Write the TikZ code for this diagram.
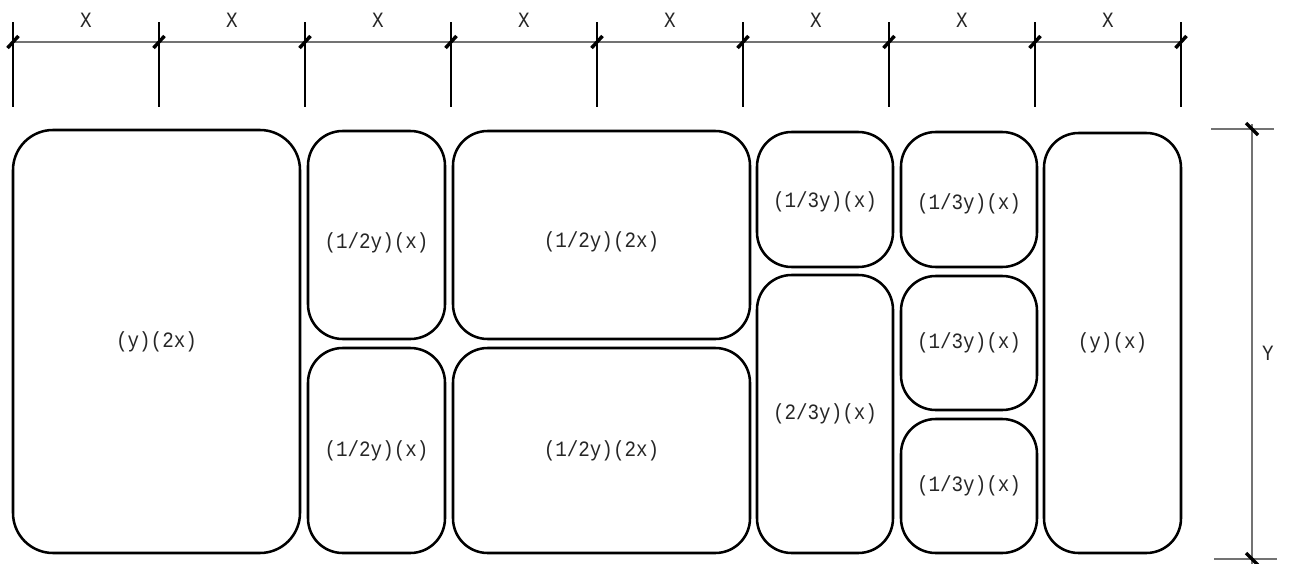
\documentclass[tikz,border=0pt]{standalone}
\usepackage{fontspec}
\newfontfamily\cadfont[FakeStretch=0.88]{Liberation Mono}
\usetikzlibrary{fit}
\begin{document}
\begin{tikzpicture}[x=0.75pt,y=-0.75pt,
  box/.style={draw=black,line width=1.9pt,rounded corners=26pt,inner sep=0pt},
  bigbox/.style={box,rounded corners=30pt},
  lbl/.style={font=\cadfont\fontsize{16.4}{18}\selectfont,text=black!85,inner sep=0pt},
  dimline/.style={draw=black!55,line width=1.1pt},
  extline/.style={draw=black,line width=0.8pt},
  tick/.style={draw=black,line width=2.6pt}]
\useasboundingbox (0,0) rectangle (1290,564);
% top dimension
\draw[dimline] (13,42) -- (1181,42);
\foreach \i in {0,...,8} {
  \pgfmathsetmacro{\xx}{13+146*\i}
  \coordinate (e\i) at (\xx,22);
  \coordinate (f\i) at (\xx,107);
  \draw[extline] (e\i) -- (f\i);
  \draw[tick] (\xx-5.5,48) -- (\xx+5.5,36);
}
\foreach \i in {0,...,7} {
  \pgfmathsetmacro{\xx}{86+146*\i}
  \node[lbl] (X\i) at (\xx,20) {X};
}
% right dimension
\draw[dimline] (1252,124) -- (1252,564);
\draw[dimline] (1211,129) -- (1274,129);
\draw[dimline] (1214,559) -- (1277,559);
\draw[tick] (1246,123) -- (1258,135);
\draw[tick] (1246,553) -- (1258,565);
\node[lbl] (Y) at (1268,353) {Y};
% boxes
\node[bigbox,fit={(13,130) (300,553)}] (b1) {};
\node[box,fit={(308,131) (445,339)}] (b2) {};
\node[box,fit={(308,348) (445,553)}] (b3) {};
\node[box,fit={(453,131) (750,339)}] (b4) {};
\node[box,fit={(453,348) (750,553)}] (b5) {};
\node[box,fit={(757,132) (893,267)}] (b6) {};
\node[box,fit={(757,275) (893,553)}] (b7) {};
\node[box,fit={(901,132) (1037,267)}] (b8) {};
\node[box,fit={(901,276) (1037,410)}] (b9) {};
\node[box,fit={(901,419) (1037,553)}] (b10) {};
\node[box,fit={(1044,133) (1181,553)}] (b11) {};
% labels
\node[lbl] (t1) at (b1.center) {(y)(2x)};
\node[lbl,yshift=-6pt] (t2) at (b2.center) {(1/2y)(x)};
\node[lbl] (t3) at (b3.center) {(1/2y)(x)};
\node[lbl,yshift=-5pt] (t4) at (b4.center) {(1/2y)(2x)};
\node[lbl] (t5) at (b5.center) {(1/2y)(2x)};
\node[lbl,yshift=-2pt] (t6) at (b6.center) {(1/3y)(x)};
\node[lbl] (t7) at (b7.center) {(2/3y)(x)};
\node[lbl,yshift=-3pt] (t8) at (b8.center) {(1/3y)(x)};
\node[lbl] (t9) at (b9.center) {(1/3y)(x)};
\node[lbl] (t10) at (b10.center) {(1/3y)(x)};
\node[lbl] (t11) at (b11.center) {(y)(x)};
\end{tikzpicture}
\end{document}
